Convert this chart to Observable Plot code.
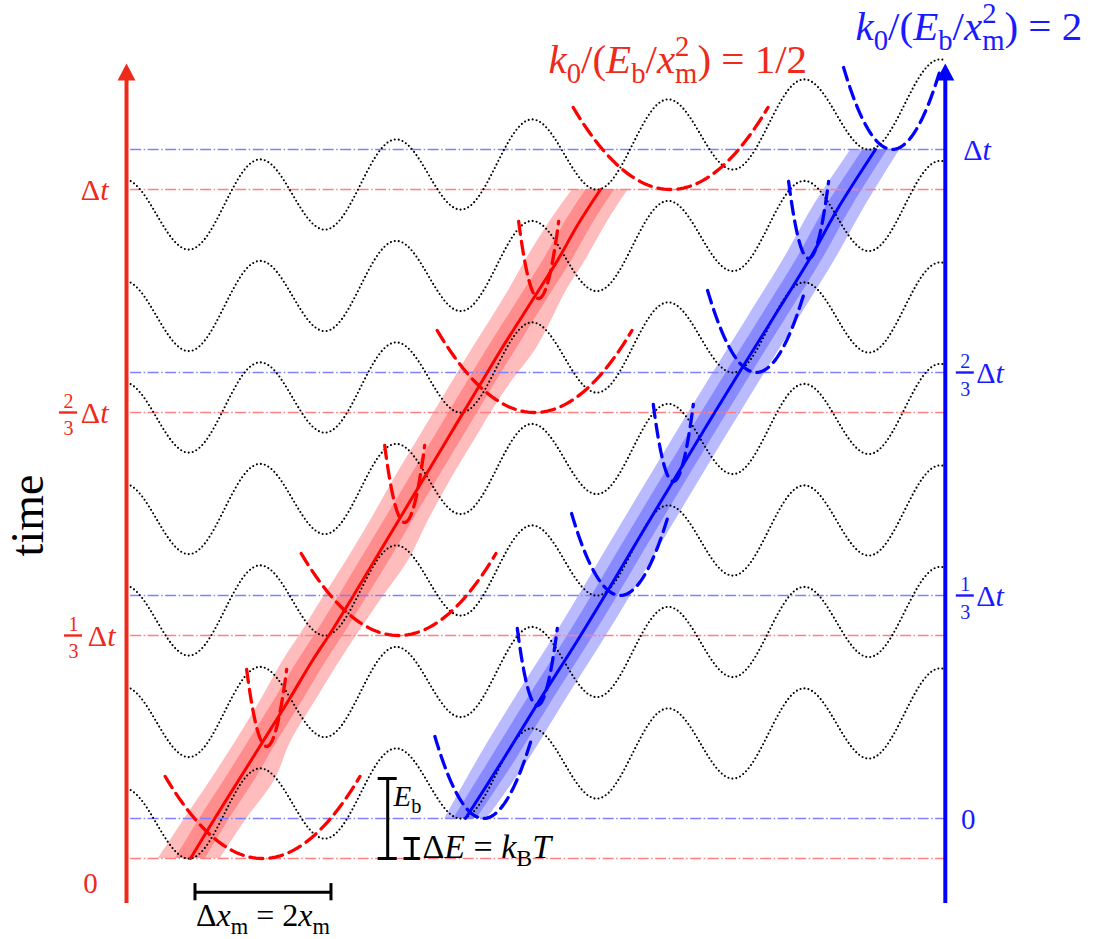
<!DOCTYPE html>
<html><head><meta charset="utf-8">
<script src="https://cdn.jsdelivr.net/npm/d3@7"></script>
<script src="https://cdn.jsdelivr.net/npm/@observablehq/plot@0.6"></script>
<style>body{margin:0;background:#fff}svg{display:block}</style>
</head><body><div id="chart"></div><script>
// Units: position in x_m, energy in k_B T.
const barrier = 4;          // E_b
const tilt = 1;             // ΔE = k_B T gained per period
const rowStep = 5.075;      // vertical offset between landscape snapshots
const rows = [0, 1, 2, 3, 4, 5, 6];
const landscapeSpan = [-0.88, 11.1];
const frameStep = 2 * rowStep + tilt;   // Δt/3
const redStart = 0, blueStart = 2;
const fractions = [null, ["1", "3"], ["2", "3"], null];   // coefficient of Δt per level

// trap stiffness k0/(E_b/x_m^2)
const redK = 0.5, blueK = 2;
const trapHeight = 4.1;
const redTrapCenters = [1.06, 3.06, 5.06, 7.06];
const blueTrapCenters = [4.31, 6.32, 8.32, 10.32];
// sharper wells drawn where the particle crosses a barrier (t = Δt/6, Δt/2, 5Δt/6)
const narrowK = 44.5, narrowHeight = 3.85;
const redNarrow = [[1.12, 5.6], [3.15, 16.8], [5.12, 28.0]];
const blueNarrow = [[5.10, 7.65], [7.10, 18.85], [9.09, 30.0]];

// mean trajectories [x, t]
const redPath = [[0,0],[0.338,1.9],[0.706,3.9],[1.074,5.9],[1.441,7.9],[1.794,9.9],[2.044,11.2],[2.353,12.9],[2.706,14.9],[3.059,16.9],[3.412,18.9],[3.765,20.9],[4.029,22.4],[4.294,23.9],[4.559,25.4],[4.838,26.9],[5.118,28.4],[5.397,29.9],[5.706,31.75],[6.029,33.45]];
const bluePath = [[4.044,2],[4.588,4.9],[5.132,7.9],[5.691,10.9],[6.103,13.2],[6.574,15.9],[7.103,18.9],[7.574,21.55],[8.088,24.4],[8.574,27.05],[9.118,30.05],[9.529,32.55],[10.074,35.45]];
// spread around the mean: [outer left, outer right, inner left, inner right]
const redSpread = [[0.47,0.44,0.22,0.22],[0.44,0.47,0.22,0.22],[0.41,0.53,0.21,0.235],[0.4,0.41,0.21,0.21],[0.41,0.4,0.21,0.21],[0.43,0.41,0.21,0.21],[0.43,0.41,0.21,0.21],[0.43,0.44,0.21,0.21],[0.41,0.5,0.21,0.22],[0.41,0.44,0.21,0.21],[0.43,0.41,0.21,0.21],[0.43,0.41,0.21,0.21],[0.43,0.41,0.21,0.21],[0.43,0.44,0.21,0.21],[0.43,0.51,0.21,0.22],[0.43,0.47,0.21,0.21],[0.44,0.41,0.21,0.21],[0.47,0.41,0.21,0.21],[0.44,0.41,0.21,0.21],[0.41,0.41,0.21,0.21]];
const blueSpread = [[0.3,0.32,0.17,0.17],[0.37,0.38,0.19,0.19],[0.38,0.38,0.19,0.19],[0.38,0.38,0.19,0.19],[0.38,0.38,0.19,0.19],[0.38,0.38,0.19,0.19],[0.38,0.38,0.19,0.19],[0.38,0.38,0.19,0.19],[0.38,0.38,0.19,0.19],[0.38,0.38,0.19,0.19],[0.38,0.38,0.19,0.19],[0.38,0.38,0.19,0.19],[0.36,0.36,0.18,0.18]];

// frame
const redAxisX = -0.941, blueAxisX = 11.1;
const axisBottom = -2.25, arrowBase = 38.9;
const levelLineStart = -0.88;

// scale bars
const ebBarX = 2.9, deBarX = 3.26;
const dxBar = {y: -1.685, x1: 0.066, x2: 2.066};

const red = "#ff0000", redDark = "#ee2a1b", blue = "#0000ff", blueText = "#1a1aff";

const V = x => tilt * x / 2 + barrier / 2 * (1 - Math.cos(Math.PI * x));
const landscape = rows.flatMap(r => d3.range(landscapeSpan[0], landscapeSpan[1] + 1e-9, 0.02).map(x => ({row: r, x, y: r * rowStep + V(x)})));

const redLevels = [0, 1, 2, 3].map(j => redStart + j * frameStep);
const blueLevels = [0, 1, 2, 3].map(j => blueStart + j * frameStep);

function parabola(id, cx, cy, a, h) {
  const hw = Math.sqrt(h / a);
  return d3.range(0, 61).map(i => { const x = cx - hw + 2 * hw * i / 60; return {id, x, y: cy + a * (x - cx) ** 2}; });
}
const redTraps = [...redTrapCenters.flatMap((c, j) => parabola("m" + j, c, redLevels[j], redK * barrier, trapHeight)),
                  ...redNarrow.flatMap(([c, t], j) => parabola("n" + j, c, t, narrowK, narrowHeight))];
const blueTraps = [...blueTrapCenters.flatMap((c, j) => parabola("m" + j, c, blueLevels[j], blueK * barrier, trapHeight)),
                   ...blueNarrow.flatMap(([c, t], j) => parabola("n" + j, c, t, narrowK, narrowHeight))];

const band = (path, spread) => path.map(([x, y], i) => ({y, o1: x - spread[i][0], o2: x + spread[i][1], i1: x - spread[i][2], i2: x + spread[i][3]}));
const redBand = band(redPath, redSpread), blueBand = band(bluePath, blueSpread);

// filled arrowhead, tip pointing up, drawn from its base
const arrowHead = {draw(ctx) { ctx.moveTo(0, -17); ctx.lineTo(9, 0); ctx.lineTo(-9, 0); ctx.closePath(); }};

const serif = "Liberation Serif";
const dash = {strokeDasharray: "11,2.5,1.5,2.5", strokeWidth: 1.5};
const trapStyle = {strokeWidth: 3.3, strokeDasharray: "13,7"};
const px = 1 / 68;   // one pixel along x, for small annotation offsets

// level labels beside each axis
function levelLabels(levels, axisX, side, color) {
  const marks = [];
  levels.forEach((y, j) => {
    const f = fractions[j];
    if (j === 0) return;
    if (side < 0) {
      const end = j === 1 ? -11 : -18;
      marks.push(Plot.text([y], {x: axisX, y: d => d, text: () => "Δ*t*", dx: end, dy: 10, textAnchor: "end", lineAnchor: "bottom", fontSize: 30, fill: color}));
      if (f) {
        const c = j === 1 ? -53 : -58;
        marks.push(Plot.text([y], {x: axisX, y: d => d, text: () => f[0], dx: c, dy: -5, textAnchor: "middle", lineAnchor: "bottom", fontSize: 20, fill: color}));
        marks.push(Plot.text([y], {x: axisX, y: d => d, text: () => f[1], dx: c, dy: 22, textAnchor: "middle", lineAnchor: "bottom", fontSize: 20, fill: color}));
        marks.push(Plot.ruleY([y], {x1: axisX + (c - 9) * px, x2: axisX + (c + 9) * px, stroke: color, strokeWidth: 2.4}));
      }
    } else {
      marks.push(Plot.text([y], {x: axisX, y: d => d, text: () => "Δ*t*", dx: f ? 31 : 18, dy: 10, textAnchor: "start", lineAnchor: "bottom", fontSize: 30, fill: color}));
      if (f) {
        marks.push(Plot.text([y], {x: axisX, y: d => d, text: () => f[0], dx: 20, dy: -5, textAnchor: "middle", lineAnchor: "bottom", fontSize: 20, fill: color}));
        marks.push(Plot.text([y], {x: axisX, y: d => d, text: () => f[1], dx: 20, dy: 23, textAnchor: "middle", lineAnchor: "bottom", fontSize: 20, fill: color}));
        marks.push(Plot.ruleY([y], {x1: axisX + 11 * px, x2: axisX + 29 * px, stroke: color, strokeWidth: 2.4}));
      }
    }
  });
  return marks;
}

const chart = Plot.plot({
  width: 1094, height: 939, margin: 0,
  x: {domain: [-2.794, 13.294], axis: null},
  y: {domain: [-4.05, 42.9], axis: null},
  style: {background: "#fff", fontFamily: serif},
  marks: [
    Plot.areaX(redBand, {y: "y", x1: "o1", x2: "o2", fill: "#ffbcbc", curve: "catmull-rom"}),
    Plot.areaX(redBand, {y: "y", x1: "i1", x2: "i2", fill: "#ff8d8d", curve: "catmull-rom"}),
    Plot.areaX(blueBand, {y: "y", x1: "o1", x2: "o2", fill: "#babaff", curve: "catmull-rom"}),
    Plot.areaX(blueBand, {y: "y", x1: "i1", x2: "i2", fill: "#8a8aff", curve: "catmull-rom"}),
    Plot.ruleY(redLevels, {x1: levelLineStart, x2: blueAxisX, stroke: "#ff8080", ...dash}),
    Plot.ruleY(blueLevels, {x1: levelLineStart, x2: blueAxisX, stroke: "#8080ff", ...dash}),
    Plot.line(landscape, {x: "x", y: "y", z: "row", stroke: "#000", strokeWidth: 2.1, strokeDasharray: "0,4", strokeLinecap: "round"}),
    Plot.line(redPath, {x: d => d[0], y: d => d[1], stroke: red, strokeWidth: 3, curve: "catmull-rom"}),
    Plot.line(bluePath, {x: d => d[0], y: d => d[1], stroke: blue, strokeWidth: 3, curve: "catmull-rom"}),
    Plot.line(redTraps, {x: "x", y: "y", z: "id", stroke: red, ...trapStyle}),
    Plot.line(blueTraps, {x: "x", y: "y", z: "id", stroke: blue, ...trapStyle}),
    // time axes
    Plot.ruleX([redAxisX], {y1: axisBottom, y2: arrowBase, stroke: redDark, strokeWidth: 4}),
    Plot.ruleX([blueAxisX], {y1: axisBottom, y2: arrowBase, stroke: blue, strokeWidth: 4}),
    Plot.dot([[redAxisX, redDark], [blueAxisX, blue]], {x: d => d[0], y: arrowBase, fill: d => d[1], stroke: "none", symbol: arrowHead, r: 9}),
    ...levelLabels(redLevels, redAxisX, -1, redDark),
    ...levelLabels(blueLevels, blueAxisX, 1, blueText),
    Plot.text(["0"], {x: redAxisX, y: -1.2, dx: -36, dy: 10, textAnchor: "middle", lineAnchor: "bottom", fontSize: 29, fill: redDark}),
    Plot.text(["0"], {x: blueAxisX, y: blueStart, dx: 23, dy: 10, textAnchor: "middle", lineAnchor: "bottom", fontSize: 29, fill: blueText}),
    // energy scale bars
    Plot.ruleX([ebBarX], {y1: 0, y2: barrier, stroke: "#000", strokeWidth: 3}),
    Plot.ruleY([0, barrier], {x1: ebBarX - 0.14, x2: ebBarX + 0.14, stroke: "#000", strokeWidth: 3}),
    Plot.ruleX([deBarX], {y1: 0, y2: tilt, stroke: "#000", strokeWidth: 3}),
    Plot.ruleY([0, tilt], {x1: deBarX - 0.12, x2: deBarX + 0.12, stroke: "#000", strokeWidth: 3}),
    Plot.text(["*E*_{b}"], {x: ebBarX + 0.085, y: 2.65, textAnchor: "start", lineAnchor: "bottom", fontSize: 29, fill: "#000"}),
    Plot.text(["Δ*E* = *k*_{B}*T*"], {x: deBarX + 0.15, y: 0.05, textAnchor: "start", lineAnchor: "bottom", fontSize: 34, fill: "#000"}),
    // length scale bar
    Plot.ruleY([dxBar.y], {x1: dxBar.x1, x2: dxBar.x2, stroke: "#000", strokeWidth: 3}),
    Plot.ruleX([dxBar.x1, dxBar.x2], {y1: dxBar.y - 0.43, y2: dxBar.y + 0.43, stroke: "#000", strokeWidth: 3}),
    Plot.text(["Δ*x*_{m} = 2*x*_{m}"], {x: (dxBar.x1 + dxBar.x2) / 2, y: -3.35, textAnchor: "middle", lineAnchor: "bottom", fontSize: 32, fill: "#000"}),
    // titles and axis name
    Plot.text(["*k*_{0}/(*E*_{b}/*x*^{2}{m}) = 1/2"], {x: 5.265, y: 39.3, textAnchor: "start", lineAnchor: "bottom", fontSize: 41, fill: redDark}),
    Plot.text(["*k*_{0}/(*E*_{b}/*x*^{2}{m}) = 2"], {x: 9.78, y: 40.95, textAnchor: "start", lineAnchor: "bottom", fontSize: 41, fill: blueText}),
    Plot.text(["time"], {x: -2.176, y: 17.15, rotate: -90, textAnchor: "middle", lineAnchor: "bottom", fontSize: 46, fill: "#000"})
  ]
});
document.getElementById("chart").appendChild(chart);

// italic (*..*), subscript (_{..}), superscript (^{..}) and stacked (^{sup}{sub}) runs
function richText(el, markup, fs) {
  const NS = "http://www.w3.org/2000/svg";
  const parts = markup.split(/(\*[^*]+\*|\^\{[^}]*\}\{[^}]*\}|\^\{[^}]*\}|_\{[^}]*\})/).filter(s => s);
  el.textContent = "";
  let shift = 0;
  const sub = 0.26 * fs, sup = -0.4 * fs;
  const add = (txt, o = {}) => {
    const t = document.createElementNS(NS, "tspan");
    t.textContent = txt;
    if (o.italic) t.setAttribute("font-style", "italic");
    if (o.size) t.setAttribute("font-size", o.size * fs);
    const off = o.off || 0, dy = off - shift;
    if (dy) t.setAttribute("dy", dy);
    if (o.dx) t.setAttribute("dx", o.dx);
    shift = off;
    el.appendChild(t);
    return t;
  };
  for (const p of parts) {
    let m;
    if ((m = p.match(/^\*([^*]+)\*$/))) add(m[1], {italic: true});
    else if ((m = p.match(/^\^\{([^}]*)\}\{([^}]*)\}$/))) {
      const a = add(m[1], {size: 0.7, off: sup});
      add(m[2], {size: 0.7, off: sub, dx: -a.getComputedTextLength()});
    }
    else if ((m = p.match(/^\^\{([^}]*)\}$/))) add(m[1], {size: 0.7, off: sup});
    else if ((m = p.match(/^_\{([^}]*)\}$/))) add(m[1], {size: 0.7, off: sub});
    else add(p);
  }
}
chart.querySelectorAll("text").forEach(el => {
  const s = el.textContent;
  if (/[*_^]/.test(s)) {
    const g = el.closest("[font-size]");
    const fs = g ? parseFloat(g.getAttribute("font-size")) : 16;
    richText(el, s, fs);
  }
});
</script></body></html>
